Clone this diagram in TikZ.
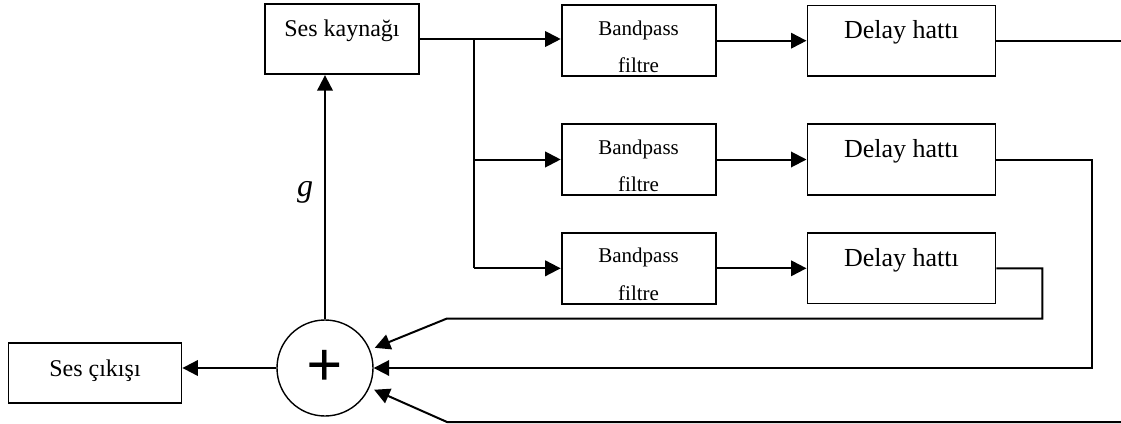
\documentclass[tikz,border=0pt]{standalone}
\usepackage{fontspec}
\setmainfont{Liberation Serif}
\usetikzlibrary{arrows.meta,calc,positioning}

\begin{document}
\begin{tikzpicture}[
  x=1pt, y=-1pt,
  node distance=46pt and 90pt,
  block/.style={
    draw=black,
    line width=1.8pt,
    inner xsep=0pt,
    inner ysep=0pt,
    minimum width=#1,
    text height=33pt,
    text depth=37.5pt,
    font=\fontsize{24}{28}\selectfont
  },
  filterbox/.style={
    block=154pt,
    align=center,
    text height=67.5pt,
    text depth=3.5pt,
    font=\fontsize{21}{37.5}\selectfont
  },
  delaybox/.style={block=188pt, font=\fontsize{26}{30}\selectfont},
  summer/.style={
    draw=black,
    line width=1.4pt,
    circle,
    minimum size=96pt,
    inner sep=0pt,
    font=\fontsize{64}{64}\selectfont\bfseries
  },
  arrow/.style={-{Triangle[length=15.5pt,width=15.5pt]}, line width=2pt},
  wire/.style={line width=2pt}
]
\useasboundingbox (0,0) rectangle (1121,423);

\node[block=154pt] (src) at (342,39) {Ses kaynağı};
\node[filterbox, anchor=north west] (bp1) at (560.7,4.3) {Bandpass\\filtre};
\node[delaybox, right=90pt of bp1] (dl1) {Delay hattı};
\node[filterbox, below=of bp1] (bp2) {Bandpass\\filtre};
\node[delaybox, right=90pt of bp2] (dl2) {Delay hattı};
\node[filterbox, below=36pt of bp2] (bp3) {Bandpass\\filtre};
\node[delaybox, right=90pt of bp3] (dl3) {Delay hattı};
\node[summer] (sum) at (325,368) {+};
\node[block=173pt, text height=33.3pt, text depth=26.7pt] (out) at (95,372.7) {Ses çıkışı};
\node[font=\fontsize{32}{32}\selectfont\itshape] (gain) at (305,192) {g};

% feed forward
\coordinate (split) at ($(src.east)+(54,0)$);
\draw[arrow] (src.east) -- (src.east -| bp1.west);
\draw[wire] (split) -- (split |- bp3.west);
\foreach \f in {bp2,bp3}
  \draw[arrow] (split |- \f.west) -- (\f.west);
\foreach \i in {1,2,3}
  \draw[arrow] (bp\i.east) -- (dl\i.west);

% returns into the adder
\coordinate (edgeR) at (1125,0);
\coordinate (tapA) at (447,318.5);
\coordinate (tapB) at (447,422);
\coordinate (edgeB) at (1125,422);
\draw[wire] (dl1.east) -- (dl1.east -| edgeR);
\draw[arrow] (dl2.east) -- ++(96,0) |- (sum.east);
\draw[arrow, shorten >=5pt] (dl3.east) -- ++(46,0) |- (tapA) -- (sum);
\draw[arrow, shorten >=5pt] (edgeB) -- (tapB) -- (sum);

\draw[arrow] (sum.north) -- (sum.north |- src.south);
\draw[arrow] (sum.west) -- (sum.west -| out.east);
\end{tikzpicture}
\end{document}
